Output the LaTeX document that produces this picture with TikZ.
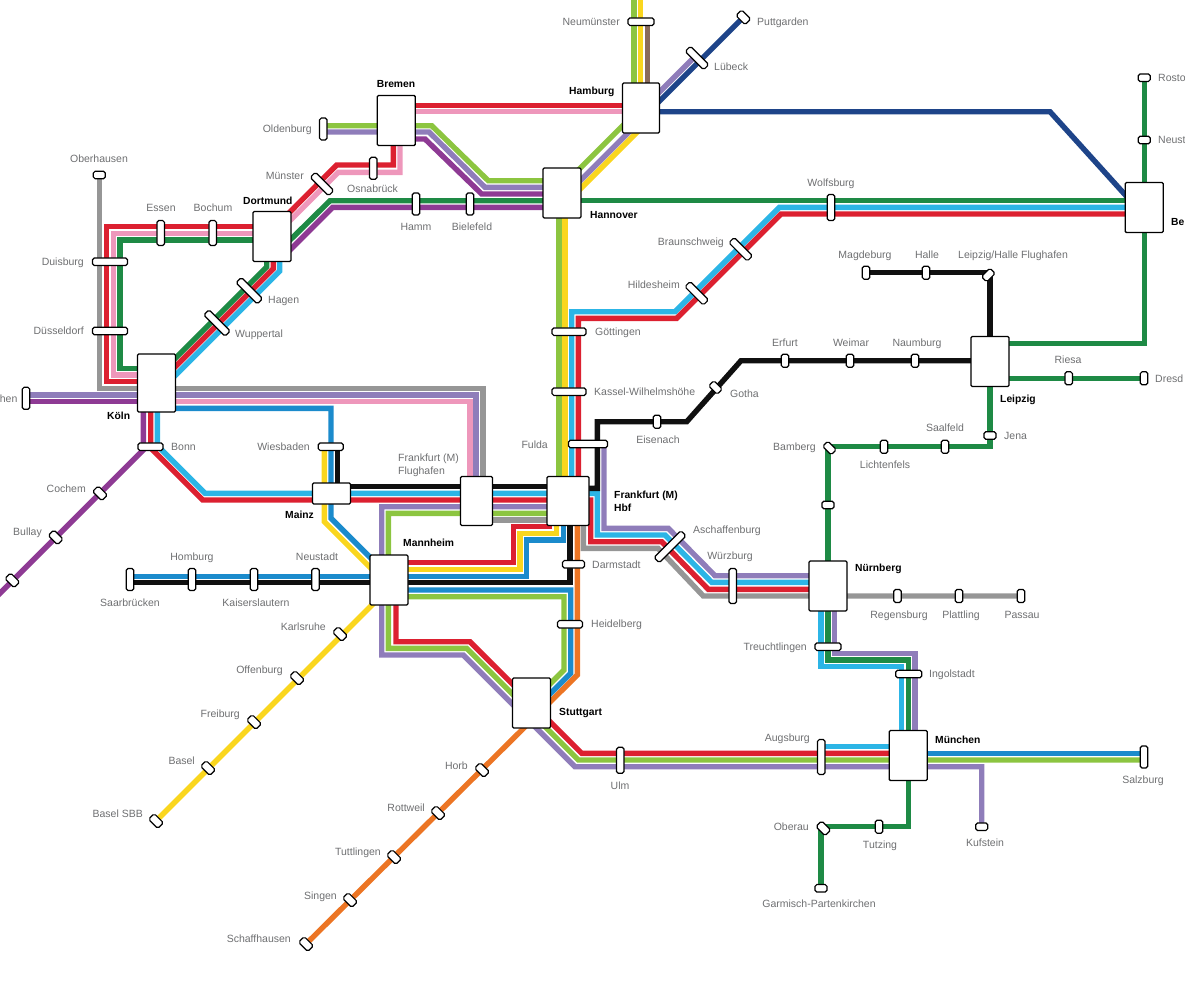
\documentclass[tikz,border=0pt]{standalone}
\usepackage{fontspec}
\setmainfont{Liberation Sans}
\usetikzlibrary{backgrounds}
\definecolor{trackred}{HTML}{DC2030}
\definecolor{trackpink}{HTML}{EE97BB}
\definecolor{trackgreen}{HTML}{1E8A45}
\definecolor{tracklime}{HTML}{8CC540}
\definecolor{trackviolet}{HTML}{8F7DBA}
\definecolor{trackplum}{HTML}{8E3A94}
\definecolor{trackgrey}{HTML}{969696}
\definecolor{trackcyan}{HTML}{2CB5E6}
\definecolor{trackblue}{HTML}{1B8BCC}
\definecolor{tracknavy}{HTML}{1E4489}
\definecolor{trackyellow}{HTML}{FAD61E}
\definecolor{trackorange}{HTML}{EC7524}
\definecolor{trackbrown}{HTML}{8A6B5B}
\definecolor{trackblack}{HTML}{101010}
\definecolor{labelgrey}{HTML}{6E6F71}
\tikzset{
    track/.style={line width=5.4pt, line join=miter},
    hub/.style 2 args={draw=black, fill=white, line width=1.3pt, rounded corners=1.2pt,
        inner sep=0pt, outer sep=0pt, minimum width=#1pt, minimum height=#2pt},
    halt/.style 2 args={draw=black, fill=white, line width=1.2pt, rounded corners=1.8pt,
        inner sep=0pt, outer sep=0pt, minimum width=#1pt, minimum height=#2pt},
    lbl/.style={text=labelgrey, inner sep=0pt, font=\fontsize{10.5}{12.6}\selectfont,
        text height=7.5pt, text depth=0pt},
    lblbold/.style={text=black, inner sep=0pt, font=\fontsize{10.3}{12.6}\selectfont\bfseries,
        text height=7.5pt, text depth=0pt},
}
\begin{document}
\begin{tikzpicture}[x=1pt, y=-1pt]
    \useasboundingbox (0,0) rectangle (1185,985);

    % Hubs
    \foreach \n/\x/\y/\w/\h in {koeln/156.5/383/38/58, dortmund/272/236.5/38/50,
        bremen/396.3/120.5/38/50, hamburg/641/108/37/50, hannover/562/193/38/50,
        berlin/1144.2/207.5/38/50, leipzig/990/361.5/38/50, nuernberg/828/586/38/50,
        muenchen/908.2/755.5/38/50, stuttgart/531.5/703/38/50, mannheim/389/580/38/50,
        flughafen/476.5/501/32/49, hbf/568/501/42/49, mainz/331.5/493.5/38/21}
        \node[hub={\w}{\h}] (\n) at (\x,\y) {};

    % Halts
    \foreach \n/\x/\y/\w/\h/\r in {neumuenster/641/21.7/26/7.5/0, puttgarden/743.3/17.3/13/8/-45,
        luebeck/697/58/26/7.5/-45, rostock/1144.2/77.7/12/7.5/0, neustrelitz/1144.2/140/12/7.5/0,
        oldenburg/323.3/129/7.5/22/0, oberhausen/99.3/175/12/7.5/0, muenster/322/184/26/7.5/-45,
        osnabrueck/373.3/168.3/7.5/22/0, hamm/416/204/7.5/22/0, bielefeld/470/204/7.5/22/0,
        wolfsburg/831/207.5/7.5/26/0, essen/160.7/233/7.5/25/0, bochum/212.7/233/7.5/25/0,
        duisburg/110/261.7/35/7.5/0, duesseldorf/110/331/35/7.5/0, hagen/249.3/290.7/30/7.5/-45,
        wuppertal/217/323/30/7.5/-45, braunschweig/740.7/249.3/26/7.5/-45,
        hildesheim/696.7/293.3/26/7.5/-45, goettingen/569/331.7/34/7.5/0, kassel/569/391.7/34/7.5/0,
        fulda/588/444/39/7.5/0, eisenach/657/421.7/7.5/13/0, gotha/715.5/387.5/12/7.5/-45,
        erfurt/785/360.7/7.5/13/0, weimar/850/360.7/7.5/13/0, naumburg/915/360.7/7.5/13/0,
        magdeburg/866/272.7/7.5/13/0, halle/926/272.7/7.5/13/0, lhflughafen/988.3/275/12/7.5/45,
        riesa/1068.7/378.3/7.5/13/0, dresden/1144/378.3/7.5/13/0, jena/990/435.5/12/7.5/0,
        saalfeld/945/446.7/7.5/13/0, lichtenfels/884/446.7/7.5/13/0, bamberg/829.5/448/12/7.5/-45,
        erlangen/828/505/12/7.5/0, aachen/26/398.3/7.5/22/0, bonn/150.5/446.7/25/7.5/0,
        cochem/100/493.3/13/8/-45, bullay/55.7/537.3/13/8/-45, bullaysouth/12.3/580.3/13/8/-45,
        wiesbaden/330.8/446.7/25/7.5/0, aschaffenburg/670/546.7/38/7.5/45, wuerzburg/732.7/586/7.5/35/0,
        darmstadt/573.5/564.3/22/7.5/0, heidelberg/570/624.3/25/7.5/0, saarbruecken/130/579.5/7.5/22/0,
        homburg/192/579.5/7.5/22/0, kaiserslautern/254/579.5/7.5/22/0, neustadt/315.5/579.5/7.5/22/0,
        karlsruhe/340/634/13/8/-45, offenburg/297/678/13/8/-45, freiburg/254/722/13/8/-45,
        basel/208/768/13/8/-45, baselsbb/156/821/13/8/-45, regensburg/897.5/596/7.5/13/0,
        plattling/959/596/7.5/13/0, passau/1021/596/7.5/13/0, treuchtlingen/828/646.7/26/7.5/0,
        ingolstadt/908.7/674/26/7.5/0, augsburg/821.3/757/7.5/35/0, salzburg/1144/757/7.5/22/0,
        ulm/620.3/760.3/7.5/26/0, kufstein/981.7/826.7/12/7.5/0, horb/482/770/13/8/-45,
        rottweil/438/813/13/8/-45, tuttlingen/394/857/13/8/-45, singen/350/900/13/8/-45,
        schaffhausen/306/944/13/8/-45, oberau/823.3/828.3/13/8/-45, tutzing/879/826.7/7.5/13/0,
        garmisch/821/888.3/12/7.5/0}
        \node[halt={\w}{\h}, rotate=\r] (\n) at (\x,\y) {};

    % Tracks
    \begin{pgfonlayer}{background}
    % red
    \draw[track, trackred] (dortmund |- 0,226.7) -- (106.7,226.7) -- (106.7,381.7) -- (koeln |- 0,381.7);
    \draw[track, trackred] (bremen |- 0,105.3) -- (hamburg |- 0,105.3);
    \draw[track, trackred] (393.3,125) -- (393.3,165) -- (336.7,165) -- (281,221);
    \draw[track, trackred] (273.3,250) -- (273.3,268.7) -- (165,377);
    \draw[track, trackred] (150.7,400) -- (150.7,448) -- (202.7,500) -- (590.7,500) -- (590.7,541.7)
        -- (661.7,541.7) -- (708.3,589.3) -- (nuernberg |- 0,589.3);
    \draw[track, trackred] (578.3,490) -- (578.3,318.3) -- (676.7,318.3) -- (781,214) -- (berlin |- 0,214);
    \draw[track, trackred] (mannheim |- 0,562.7) -- (513.3,562.7) -- (513.3,526.7) -- (552,526.7);
    \draw[track, trackred] (396,590) -- (396,641.7) -- (470,641.7) -- (581.7,753.3) -- (muenchen |- 0,753.3);
    % pink
    \draw[track, trackpink] (dortmund |- 0,233.3) -- (113.3,233.3) -- (113.3,375) -- (koeln |- 0,375);
    \draw[track, trackpink] (bremen |- 0,111.7) -- (hamburg |- 0,111.7);
    \draw[track, trackpink] (400,130) -- (400,172.3) -- (338.3,172.3) -- (281,229.6);
    \draw[track, trackpink] (koeln |- 0,401.7) -- (470,401.7) -- (470,490);
    % dark green
    \draw[track, trackgreen] (dortmund |- 0,240) -- (120,240) -- (120,368.3) -- (koeln |- 0,368.3);
    \draw[track, trackgreen] (hannover |- 0,200.7) -- (330,200.7) -- (280,250);
    \draw[track, trackgreen] (266.7,250) -- (266.7,266.9) -- (165,368.6);
    \draw[track, trackgreen] (hannover |- 0,200.7) -- (berlin |- 0,200.7);
    \draw[track, trackgreen] (rostock) -- (berlin);
    \draw[track, trackgreen] (berlin) -- (berlin |- 0,343.3) -- (leipzig |- 0,343.3);
    \draw[track, trackgreen] (leipzig |- 0,378.3) -- (dresden);
    \draw[track, trackgreen] (leipzig) -- (leipzig |- 0,446.7) -- (nuernberg |- 0,446.7) -- (nuernberg);
    \draw[track, trackgreen] (nuernberg) -- (nuernberg |- 0,660) -- (muenchen |- 0,660) -- (muenchen);
    \draw[track, trackgreen] (muenchen) -- (muenchen |- 0,826.7) -- (garmisch |- 0,826.7) -- (garmisch);
    % light green
    \draw[track, tracklime] (oldenburg |- 0,125.7) -- (431.7,125.7) -- (488.3,180.7) -- (hannover |- 0,180.7);
    \draw[track, tracklime] (559,193) -- (559,490);
    \draw[track, tracklime] (631.7,116.7) -- (570,178.3);
    \draw[track, tracklime] (634,0) -- (634,100);
    \draw[track, tracklime] (hbf |- 0,513.3) -- (388.3,513.3) -- (388.3,648.3) -- (466.7,648.3)
        -- (578.4,760) -- (salzburg |- 0,760);
    \draw[track, tracklime] (mannheim |- 0,596.7) -- (564,596.7) -- (564,670) -- (540,694);
    % violet
    \draw[track, trackviolet] (oldenburg |- 0,132) -- (429,132) -- (485,187.3) -- (hannover |- 0,187.3);
    \draw[track, trackviolet] (638,123) -- (570,191);
    \draw[track, trackviolet] (650,101.5) -- (695.25,56.25);
    \draw[track, trackviolet] (aachen |- 0,395) -- (476,395) -- (476,490);
    \draw[track, trackviolet] (hbf |- 0,506.7) -- (381.7,506.7) -- (381.7,655) -- (463.3,655) -- (575,766.7)
        -- (981.7,766.7) -- (kufstein);
    \draw[track, trackviolet] (604,444) -- (604,528.3) -- (668.3,528.3) -- (715,575.7) -- (nuernberg |- 0,575.7);
    \draw[track, trackviolet] (834.3,590) -- (834.3,653.3) -- (915,653.3) -- (915,740);
    % plum
    \draw[track, trackplum] (aachen |- 0,401.7) -- (koeln |- 0,401.7);
    \draw[track, trackplum] (bremen |- 0,139) -- (425,139) -- (481.7,194) -- (hannover |- 0,194);
    \draw[track, trackplum] (hannover |- 0,207.3) -- (332.7,207.3) -- (281,259);
    \draw[track, trackplum] (143.3,400) -- (143.3,450) -- (-5,598.3);
    % grey
    \draw[track, trackgrey] (oberhausen) -- (oberhausen |- 0,388.3) -- (483,388.3) -- (483,490);
    \draw[track, trackgrey] (flughafen |- 0,520) -- (hbf |- 0,520);
    \draw[track, trackgrey] (583.3,510) -- (583.3,548.3) -- (658,548.3) -- (703.3,596) -- (passau);
    % cyan
    \draw[track, trackcyan] (279.7,250) -- (279.7,271) -- (165,385.7);
    \draw[track, trackcyan] (157.3,400) -- (157.3,445.6) -- (205,493.3) -- (597.3,493.3) -- (597.3,535)
        -- (665,535) -- (711.7,582.3) -- (nuernberg |- 0,582.3);
    \draw[track, trackcyan] (571.7,490) -- (571.7,311.7) -- (675,311.7) -- (779.4,207.3) -- (berlin |- 0,207.3);
    \draw[track, trackcyan] (821,590) -- (821,666.7) -- (901.7,666.7) -- (901.7,740);
    \draw[track, trackcyan] (augsburg |- 0,746.7) -- (muenchen |- 0,746.7);
    % blue
    \draw[track, trackblue] (koeln |- 0,408.3) -- (331,408.3) -- (331,518.3) -- (380,567.3);
    \draw[track, trackblue] (saarbruecken |- 0,576.7) -- (526.7,576.7) -- (526.7,540) -- (563.3,540) -- (563.3,515);
    \draw[track, trackblue] (mannheim |- 0,590) -- (570.7,590) -- (570.7,673.3) -- (540,704);
    \draw[track, trackblue] (muenchen |- 0,753.3) -- (salzburg |- 0,753.3);
    % yellow
    \draw[track, trackyellow] (640.7,0) -- (640.7,100);
    \draw[track, trackyellow] (646,123.3) -- (570,199.3);
    \draw[track, trackyellow] (565,193) -- (565,490);
    \draw[track, trackyellow] (324.3,446.7) -- (324.3,521.7) -- (380,577.4);
    \draw[track, trackyellow] (mannheim |- 0,569.3) -- (520,569.3) -- (520,533.3) -- (556.7,533.3) -- (556.7,515);
    \draw[track, trackyellow] (382,595) -- (baselsbb);
    % orange
    \draw[track, trackorange] (577.3,515) -- (577.3,675) -- (schaffhausen);
    % navy
    \draw[track, tracknavy] (hamburg |- 0,111.7) -- (1050,111.7) -- (1132,202.4);
    \draw[track, tracknavy] (puttgarden) -- (650,110.6);
    % brown
    \draw[track, trackbrown] (647.3,21.7) -- (647.3,100);
    % black
    \draw[track, trackblack] (saarbruecken |- 0,582.7) -- (570,582.7) -- (570,515);
    \draw[track, trackblack] (337.7,446.7) -- (337.7,486.7) -- (hbf |- 0,486.7);
    \draw[track, trackblack] (hbf |- 0,488.3) -- (597.3,488.3) -- (597.3,421.7) -- (686.7,421.7)
        -- (741,360.7) -- (leipzig |- 0,360.7);
    \draw[track, trackblack] (magdeburg) -- (leipzig |- 0,272.7) -- (leipzig);
    \end{pgfonlayer}

    % Hub names
    \foreach \n/\x/\y/\a/\t in {lhamburg/569/91/west/Hamburg, lbremen/396/84/center/Bremen,
        lhannover/590/215/west/Hannover, ldortmund/243/201/west/Dortmund, lberlin/1171/222/west/Be,
        lleipzig/1000/399/west/Leipzig, lkoeln/107/416/west/Köln, lmainz/285/515/west/Mainz,
        lmannheim/403/543/west/Mannheim, lnuernberg/855/568/west/Nürnberg,
        lmuenchen/935/740/west/München, lstuttgart/559/712/west/Stuttgart}
        \node[lblbold, anchor=\a] (\n) at (\x,\y) {\t};
    \node[lblbold, anchor=west, align=left, text height=, text depth=] (lhbf) at (614,501.5) {Frankfurt (M)\\Hbf};

    % Halt names
    \foreach \n/\x/\y/\a/\t in {lneumuenster/620/22/east/Neumünster, lputtgarden/757/22/west/Puttgarden,
        lluebeck/714/67/west/Lübeck, lrostock/1158/78/west/Rosto, lneustrelitz/1158/140/west/Neust,
        loldenburg/312/129/east/Oldenburg, loberhausen/99/159/center/Oberhausen, lmuenster/304/176/east/Münster,
        losnabrueck/347/189/west/Osnabrück, lhamm/416/227/center/Hamm, lbielefeld/472/227/center/Bielefeld,
        lwolfsburg/831/183/center/Wolfsburg, lessen/161/208/center/Essen, lbochum/213/208/center/Bochum,
        lduisburg/84/262/east/Duisburg, lduesseldorf/84/331/east/Düsseldorf, lhagen/268/300/west/Hagen,
        lwuppertal/235/334/west/Wuppertal, lbraunschweig/724/242/east/Braunschweig,
        lhildesheim/680/285/east/Hildesheim, lgoettingen/595/332/west/Göttingen,
        lkassel/594/392/west/Kassel-Wilhelmshöhe, lfulda/548/445/east/Fulda, leisenach/658/440/center/Eisenach,
        lgotha/730/394/west/Gotha, lmagdeburg/865/255/center/Magdeburg, lhalle/927/255/center/Halle,
        llhflughafen/958/255/west/{Leipzig/Halle Flughafen}, lerfurt/785/343/center/Erfurt,
        lweimar/851/343/center/Weimar, lnaumburg/917/343/center/Naumburg, lriesa/1068/360/center/Riesa,
        ldresden/1155/379/west/Dresd, ljena/1004/436/west/Jena, lbamberg/816/447/east/Bamberg,
        llichtenfels/885/465/center/Lichtenfels, lsaalfeld/945/428/center/Saalfeld, laachen/17.6/399/east/hen,
        lbonn/171/447/west/Bonn, lcochem/86/489/east/Cochem, lbullay/42/532/east/Bullay,
        lwiesbaden/310/447/east/Wiesbaden, laschaffenburg/693/530/west/Aschaffenburg,
        lwuerzburg/730/556/center/Würzburg, ldarmstadt/592/565/west/Darmstadt, lheidelberg/591/624/west/Heidelberg,
        lhomburg/192/557/center/Homburg, lneustadt/317/557/center/Neustadt, lsaarbruecken/130/603/center/Saarbrücken,
        lkaiserslautern/256/603/center/Kaiserslautern, lkarlsruhe/326/627/east/Karlsruhe,
        loffenburg/283/670/east/Offenburg, lfreiburg/240/714/east/Freiburg, lbasel/195/761/east/Basel,
        lbaselsbb/143/814/east/Basel SBB, lregensburg/899/615/center/Regensburg, lplattling/961/615/center/Plattling,
        lpassau/1022/615/center/Passau, ltreuchtlingen/807/647/east/Treuchtlingen, lingolstadt/929/674/west/Ingolstadt,
        laugsburg/810/738/east/Augsburg, lsalzburg/1143/780/center/Salzburg, lulm/620/786/center/Ulm,
        lhorb/468/766/east/Horb, lrottweil/425/808/east/Rottweil, ltuttlingen/381/852/east/Tuttlingen,
        lsingen/337/896/east/Singen, lschaffhausen/291/939/east/Schaffhausen, loberau/809/827/east/Oberau,
        ltutzing/880/845/center/Tutzing, lkufstein/985/843/center/Kufstein,
        lgarmisch/819/904/center/Garmisch-Partenkirchen}
        \node[lbl, anchor=\a] (\n) at (\x,\y) {\t};
    \node[lbl, anchor=west, align=left, text height=, text depth=] (lflughafen) at (398,465) {Frankfurt (M)\\Flughafen};
\end{tikzpicture}
\end{document}
